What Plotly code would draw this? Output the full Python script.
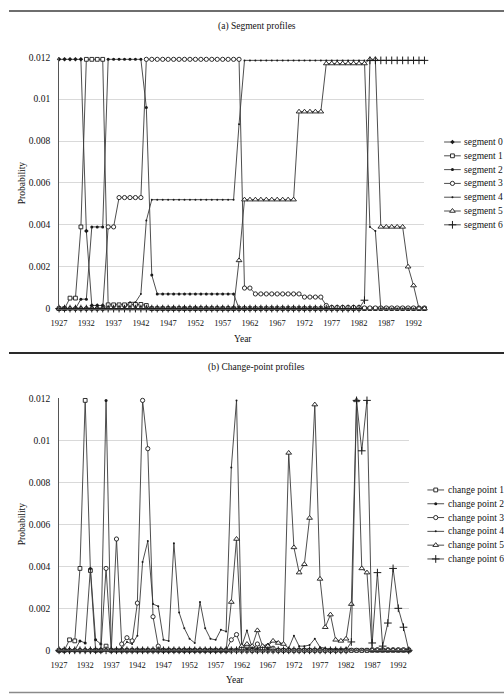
import plotly.graph_objects as go

# ---------------- data ----------------
years = list(range(1927, 1995))
x_tick_years = list(range(1927, 1993, 5))
y_tick_vals = [0, 0.002, 0.004, 0.006, 0.008, 0.01, 0.012]
y_tick_text = ["0", "0.002", "0.004", "0.006", "0.008", "0.01", "0.012"]

seg_names = ["segment 0", "segment 1", "segment 2", "segment 3", "segment 4", "segment 5", "segment 6"]
cp_names = ["change point 1", "change point 2", "change point 3", "change point 4", "change point 5", "change point 6"]

seg0 = [0.0119, 0.0119, 0.0119, 0.0119, 0.0119, 0.0037, 0.00015, 0.00015, 0.00015, 0,
        0, 0, 0, 0, 0, 0, 0, 0, 0, 0,
        0, 0, 0, 0, 0, 0, 0, 0, 0, 0,
        0, 0, 0, 0, 0, 0, 0, 0, 0, 0,
        0, 0, 0, 0, 0, 0, 0, 0, 0, 0,
        0, 0, 0, 0, 0, 0, 0, 0, 0, 0,
        0, 0, 0, 0, 0, 0, 0, 0]
seg1 = [0, 0, 0.0005, 0.0005, 0.0039, 0.0119, 0.0119, 0.0119, 0.0119, 0.00018,
        0.00018, 0.00018, 0.00018, 0.0002, 0.0002, 0.0002, 0.00015, 0, 0, 0,
        0, 0, 0, 0, 0, 0, 0, 0, 0, 0,
        0, 0, 0, 0, 0, 0, 0, 0, 0, 0,
        0, 0, 0, 0, 0, 0, 0, 0, 0, 0,
        0, 0, 0, 0, 0, 0, 0, 0, 0, 0,
        0, 0, 0, 0, 0, 0, 0, 0]
seg2 = [0, 0, 0, 0, 0.00045, 0.00045, 0.0039, 0.0039, 0.0039, 0.0119,
        0.0119, 0.0119, 0.0119, 0.0119, 0.0119, 0.0119, 0.0096, 0.0016, 0.0007, 0.0007,
        0.0007, 0.0007, 0.0007, 0.0007, 0.0007, 0.0007, 0.0007, 0.0007, 0.0007, 0.0007,
        0.0007, 0.0007, 0.0007, 0, 0, 0, 0, 0, 0, 0,
        0, 0, 0, 0, 0, 0, 0, 0, 0, 0,
        0, 0, 0, 0, 0, 0, 0, 0, 0, 0,
        0, 0, 0, 0, 0, 0, 0, 0]
seg3 = [0, 0, 0, 0, 0, 0, 0, 0, 0, 0.0039,
        0.0039, 0.0053, 0.0053, 0.0053, 0.0053, 0.0053, 0.0119, 0.0119, 0.0119, 0.0119,
        0.0119, 0.0119, 0.0119, 0.0119, 0.0119, 0.0119, 0.0119, 0.0119, 0.0119, 0.0119,
        0.0119, 0.0119, 0.0119, 0.0119, 0.00098, 0.00098, 0.0007, 0.0007, 0.0007, 0.0007,
        0.0007, 0.0007, 0.0007, 0.0007, 0.0007, 0.00055, 0.00055, 0.00055, 0.00055, 0.00015,
        0.00006, 0.00006, 0.00006, 0.00006, 0.00006, 0.00006, 0.00003, 0.00003, 0.00003, 0.00003,
        0.00003, 0.00003, 0.00003, 0.00003, 0.00003, 0.00003, 0.00003, 0.00003]
seg4 = [0, 0, 0, 0, 0, 0, 0, 0, 0, 0,
        0, 0, 0, 0.0003, 0.0003, 0.0007, 0.0042, 0.0052, 0.0052, 0.0052,
        0.0052, 0.0052, 0.0052, 0.0052, 0.0052, 0.0052, 0.0052, 0.0052, 0.0052, 0.0052,
        0.0052, 0.0052, 0.0052, 0.0088, 0.01185, 0.01185, 0.01185, 0.01185, 0.01185, 0.01185,
        0.01185, 0.01185, 0.01185, 0.01185, 0.01185, 0.01185, 0.01185, 0.01185, 0.01185, 0.01185,
        0.01185, 0.01185, 0.01185, 0.01185, 0.01185, 0.01185, 0.01185, 0.0039, 0.0037, 0,
        0, 0, 0, 0, 0, 0, 0, 0]
seg5 = [0, 0, 0, 0, 0, 0, 0, 0, 0, 0,
        0, 0, 0, 0, 0, 0, 0, 0, 0, 0,
        0, 0, 0, 0, 0, 0, 0, 0, 0, 0,
        0, 0, 0, 0.0023, 0.0052, 0.0052, 0.0052, 0.0052, 0.0052, 0.0052,
        0.0052, 0.0052, 0.0052, 0.0052, 0.0094, 0.0094, 0.0094, 0.0094, 0.0094, 0.0117,
        0.0117, 0.0117, 0.0117, 0.0117, 0.0117, 0.0117, 0.0117, 0.0119, 0.0119, 0.0039,
        0.0039, 0.0039, 0.0039, 0.0039, 0.002, 0.0011, 0, 0]
seg6 = [0, 0, 0, 0, 0, 0, 0, 0, 0, 0,
        0, 0, 0, 0, 0, 0, 0, 0, 0, 0,
        0, 0, 0, 0, 0, 0, 0, 0, 0, 0,
        0, 0, 0, 0, 0, 0, 0, 0, 0, 0,
        0, 0, 0, 0, 0, 0, 0, 0, 0, 0,
        0, 0, 0, 0, 0, 0, 0.0004, 0.01185, 0.01185, 0.01185,
        0.01185, 0.01185, 0.01185, 0.01185, 0.01185, 0.01185, 0.01185, 0.01185]

cp1 = [0, 0, 0.0005, 0.00045, 0.0039, 0.0119, 0.0038, 0, 0, 0.0002,
       0, 0, 0, 0, 0, 0, 0, 0, 0, 0,
       0, 0, 0, 0, 0, 0, 0, 0, 0, 0,
       0, 0, 0, 0, 0, 0, 0, 0, 0, 0,
       0, 0, 0, 0, 0, 0, 0, 0, 0, 0,
       0, 0, 0, 0, 0, 0, 0, 0, 0, 0,
       0, 0, 0, 0, 0, 0, 0, 0]
cp2 = [0, 0, 0, 0, 0.00045, 0.00035, 0.0039, 0.0005, 0.0003, 0.0119,
       0, 0, 0, 0, 0, 0, 0, 0, 0, 0,
       0, 0, 0, 0, 0, 0, 0, 0, 0, 0,
       0, 0, 0, 0, 0, 0, 0, 0, 0, 0,
       0, 0, 0, 0, 0, 0, 0, 0, 0, 0,
       0, 0, 0, 0, 0, 0, 0, 0, 0, 0,
       0, 0, 0, 0, 0, 0, 0, 0]
cp3 = [0, 0, 0, 0, 0, 0, 0, 0, 0, 0.0039,
       0, 0.0053, 0.0003, 0.0006, 0.00045, 0.00225, 0.0119, 0.0096, 0.0016, 0.0002,
       0, 0, 0, 0, 0, 0, 0, 0, 0, 0,
       0, 0, 0, 0.0005, 0.00075, 0.0001, 0.0002, 0, 0.0003, 0.0001,
       0.0002, 0.0001, 0, 0, 0, 0, 0, 0, 0, 0,
       0, 0, 0, 0, 0, 0, 0, 0, 0, 0,
       0.00003, 0.00003, 0.00003, 0.00003, 0.00003, 0.00003, 0.00003, 0.00003]
cp4 = [0, 0, 0, 0, 0, 0, 0, 0, 0, 0,
       0, 0, 0.0001, 0.0004, 0.0003, 0.0007, 0.0042, 0.0052, 0.0022, 0.0021,
       0.0005, 0.00045, 0.0051, 0.0018, 0.00105, 0.00055, 0.00035, 0.0023, 0.00105, 0.00055,
       0.0005, 0.00098, 0.0009, 0.0087, 0.0119, 0.0002, 0.00095, 0.0001, 0.0001, 0.0002,
       0.0003, 0.00045, 0.0004, 0.0003, 0.0001, 0.0007, 0.0002, 0.0002, 0.00025, 0.00055,
       0.00015, 0.0001, 0.00005, 0.00005, 0.00005, 0.0001, 0, 0, 0, 0,
       0, 0, 0, 0, 0, 0, 0, 0]
cp5 = [0, 0, 0, 0, 0, 0, 0, 0, 0, 0,
       0, 0, 0, 0, 0, 0, 0, 0, 0, 0,
       0, 0, 0, 0, 0, 0, 0, 0, 0, 0,
       0, 0, 0, 0.0023, 0.0053, 0.0002, 0.0003, 0.0002, 0.00095, 0.0002,
       0.0002, 0.00045, 0.00035, 0.0003, 0.0094, 0.0049, 0.0037, 0.0041, 0.0063, 0.0117,
       0.0034, 0.0011, 0.0017, 0.0005, 0.00045, 0.00055, 0.0022, 0.0119, 0.0039, 0.0037,
       0, 0, 0, 0, 0, 0, 0, 0]
cp6 = [0, 0, 0, 0, 0, 0, 0, 0, 0, 0,
       0, 0, 0, 0, 0, 0, 0, 0, 0, 0,
       0, 0, 0, 0, 0, 0, 0, 0, 0, 0,
       0, 0, 0, 0, 0, 0, 0, 0, 0, 0,
       0, 0, 0, 0, 0, 0, 0, 0, 0, 0,
       0, 0, 0, 0, 0, 0, 0.0004, 0.0119, 0.0095, 0.0119,
       0.00035, 0.0037, 0.0002, 0.0013, 0.0039, 0.002, 0.0011, 0]

seg_values = [seg0, seg1, seg2, seg3, seg4, seg5, seg6]
cp_values = [cp1, cp2, cp3, cp4, cp5, cp6]

# ---------------- styles ----------------
W, H = 504, 699
FONT = "Liberation Serif"
LINE_C = "#3a3a3a"
MK_C = "#1a1a1a"

def mk(kind):
    if kind == "diamond":
        return dict(symbol="diamond", size=3.5, color=MK_C, line=dict(color=MK_C, width=0))
    if kind == "square":
        return dict(symbol="square", size=3.8, color="white", line=dict(color=MK_C, width=0.9))
    if kind == "dot":
        return dict(symbol="circle", size=3, color=MK_C, line=dict(color=MK_C, width=0))
    if kind == "ring":
        return dict(symbol="circle", size=4.2, color="white", line=dict(color=MK_C, width=0.9))
    if kind == "tiny":
        return dict(symbol="circle", size=2, color=MK_C, line=dict(color=MK_C, width=0))
    if kind == "tri":
        return dict(symbol="triangle-up", size=5, color="white", line=dict(color=MK_C, width=0.9))
    if kind == "plus":
        return dict(symbol="cross-thin", size=5.5, color=MK_C, line=dict(color=MK_C, width=1))

seg_marks = ["diamond", "square", "dot", "ring", "tiny", "tri", "plus"]
cp_marks = ["square", "dot", "ring", "tiny", "tri", "plus"]

def px_x(p):
    return p / W

def px_y(p):
    return 1 - p / H

fig = go.Figure()

for name, vals, m in zip(seg_names, seg_values, seg_marks):
    fig.add_trace(go.Scatter(x=years, y=vals, name=name, mode="lines+markers",
                             line=dict(color=LINE_C, width=0.9), marker=mk(m),
                             cliponaxis=False, showlegend=False, xaxis="x", yaxis="y"))
for name, vals, m in zip(cp_names, cp_values, cp_marks):
    fig.add_trace(go.Scatter(x=years, y=vals, name=name, mode="lines+markers",
                             line=dict(color=LINE_C, width=0.9), marker=mk(m),
                             cliponaxis=False, showlegend=False, xaxis="x2", yaxis="y2"))

# ---------------- custom legends (pixel overlay) ----------------
annotations = []
def add_legend(names, marks, lx0, lx1, row0, step):
    for i, (nm, m) in enumerate(zip(names, marks)):
        yy = row0 + i * step
        mid = (lx0 + lx1) / 2
        fig.add_trace(go.Scatter(x=[lx0, lx1], y=[yy, yy], mode="lines",
                                 line=dict(color=LINE_C, width=0.9), showlegend=False,
                                 hoverinfo="skip", xaxis="x3", yaxis="y3", cliponaxis=False))
        fig.add_trace(go.Scatter(x=[mid], y=[yy], mode="markers", marker=mk(m),
                                 showlegend=False, hoverinfo="skip", xaxis="x3", yaxis="y3",
                                 cliponaxis=False))
        annotations.append(dict(x=px_x(lx1 + 1.5), y=px_y(yy), xref="paper", yref="paper",
                                text=nm, showarrow=False, xanchor="left", yanchor="middle",
                                font=dict(family=FONT, size=9.5, color="#111")))

add_legend(seg_names, seg_marks, 443, 460, 139, 14)
add_legend(cp_names, cp_marks, 426, 443, 492, 14)

# titles and axis titles
def txt(x, y, s, size=9.5, angle=0):
    annotations.append(dict(x=px_x(x), y=px_y(y), xref="paper", yref="paper", text=s,
                            showarrow=False, xanchor="center", yanchor="middle",
                            textangle=angle, font=dict(family=FONT, size=size, color="#111")))

txt(252, 22, "(a) Segment profiles")
txt(252, 368, "(b) Change-point profiles")
txt(238, 339, "Year")
txt(230, 685, "Year")
txt(14, 181, "Probability", angle=-90)
txt(14, 527, "Probability", angle=-90)

shapes = [
    dict(type="line", xref="paper", yref="paper", x0=0, x1=1, y0=px_y(6), y1=px_y(6),
         line=dict(color="#6e6e6e", width=2)),
    dict(type="line", xref="paper", yref="paper", x0=0, x1=1, y0=px_y(353), y1=px_y(353),
         line=dict(color="#2a2a2a", width=2)),
    dict(type="line", xref="paper", yref="paper", x0=0, x1=1, y0=px_y(697.5), y1=px_y(697.5),
         line=dict(color="#8a8a8a", width=1.5)),
]

xcommon = dict(range=[1927, 1994], tickmode="array", tickvals=x_tick_years,
               ticktext=[str(v) for v in x_tick_years], showgrid=False, zeroline=False,
               showline=True, linecolor="#555555", linewidth=1, ticks="",
               tickfont=dict(family=FONT, size=8.5, color="#111"), ticklabelstandoff=6)
ycommon = dict(range=[0, 0.012], tickmode="array", tickvals=y_tick_vals, ticktext=y_tick_text,
               showgrid=True, gridcolor="#d9d9d9", gridwidth=1, zeroline=False,
               showline=True, linecolor="#555555", linewidth=1, ticks="",
               tickfont=dict(family=FONT, size=9.5, color="#111"), ticklabelstandoff=6)

fig.update_layout(
    width=W, height=H, margin=dict(l=0, r=0, t=0, b=0),
    paper_bgcolor="white", plot_bgcolor="rgba(0,0,0,0)", showlegend=False,
    xaxis=dict(domain=[px_x(51), px_x(423)], anchor="y", **xcommon),
    yaxis=dict(domain=[px_y(308), px_y(53)], anchor="x", **ycommon),
    xaxis2=dict(domain=[px_x(51), px_x(407)], anchor="y2", **xcommon),
    yaxis2=dict(domain=[px_y(654.7), px_y(399)], anchor="x2", **ycommon),
    xaxis3=dict(domain=[0, 1], range=[0, W], visible=False, anchor="y3"),
    yaxis3=dict(domain=[0, 1], range=[H, 0], visible=False, anchor="x3"),
    annotations=annotations, shapes=shapes,
)

fig.write_html("out.html")
